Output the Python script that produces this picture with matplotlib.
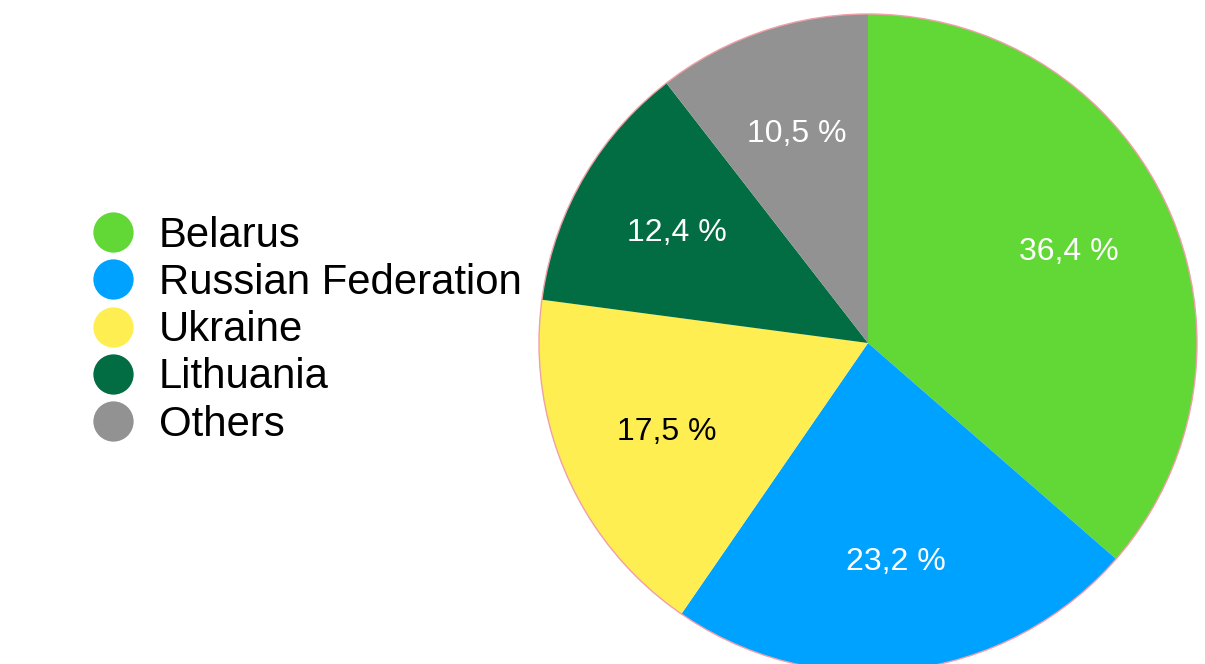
import matplotlib.pyplot as plt
from matplotlib.lines import Line2D
from matplotlib.patches import Circle

plt.rcParams['font.family'] = ['Liberation Sans', 'DejaVu Sans']

#DATA-------------------
countries = ['Belarus', 'Russian Federation', 'Ukraine', 'Lithuania', 'Others']
shares = [36.4, 23.2, 17.5, 12.4, 10.5]
colors = ['#61d836', '#00a2ff', '#feee52', '#026c42', '#929292']
text_colors = ['white', 'white', 'black', 'white', 'white']
#------------------------

W, H = 1205, 664
cx, cy, r = 868, H - 343, 329

fig = plt.figure(figsize=(W/100, H/100), dpi=100)
ax = fig.add_axes([0, 0, 1, 1])

wedges, texts, autotexts = ax.pie(
	shares, colors=colors, startangle=90, counterclock=False,
	center=(cx, cy), radius=r, pctdistance=0.67,
	autopct=lambda p: ('%.1f %%' % p).replace('.', ','),
	textprops={'fontsize': 23},
	wedgeprops={'linewidth': 0})
for t, c in zip(autotexts, text_colors):
	t.set_color(c)

# thin pink rim
ax.add_patch(Circle((cx, cy), r, fill=False, edgecolor='#f0a0a8', linewidth=1.0))

ax.set_xlim(0, W)
ax.set_ylim(0, H)
ax.set_aspect('equal')
ax.axis('off')

handles = [Line2D([], [], marker='o', linestyle='none', markersize=29,
				  markerfacecolor=c, markeredgewidth=0) for c in colors]
leg = ax.legend(handles, countries, loc='upper left', bbox_to_anchor=(92/W, 1 - 216/H),
				fontsize=30.2, frameon=False, labelspacing=0.17, handlelength=1.0,
				handletextpad=0.6, borderaxespad=0, borderpad=0)

plt.savefig('out.png', dpi=100)
